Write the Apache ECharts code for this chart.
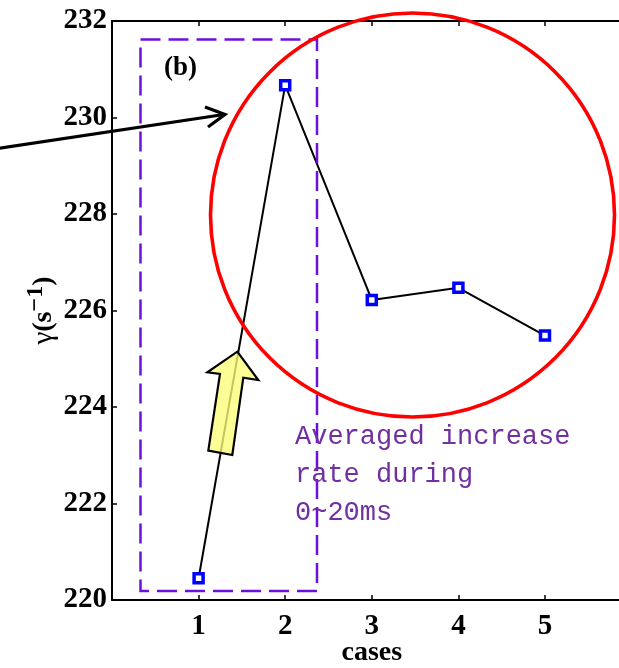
<!DOCTYPE html>
<html>
<head>
<meta charset="utf-8">
<script src="https://cdn.jsdelivr.net/npm/echarts@6/dist/echarts.min.js"></script>
<style>
html,body{margin:0;padding:0;background:#fff;}
#chart{width:619px;height:668px;}
</style>
</head>
<body>
<div id="chart"></div>
<script>
// ---- data ----
var cases = [1, 2, 3, 4, 5];
var gammaValues = [220.45, 230.67, 226.22, 226.47, 225.48];
var yTicks = [220, 222, 224, 226, 228, 230, 232];
var xTicks = [1, 2, 3, 4, 5];
var panelLabel = '(b)';
var noteLines = ['Averaged increase', 'rate during', '0~20ms'];

var points = cases.map(function (c, i) { return [c, gammaValues[i]]; });

var chart = echarts.init(document.getElementById('chart'), null, {renderer: 'canvas'});

var axisFont = {fontFamily: 'Liberation Serif', fontWeight: 'bold', fontSize: 29, color: '#000'};

function xFmt(v) { return xTicks.indexOf(v) >= 0 ? String(v) : ''; }
function yFmt(v) { return yTicks.indexOf(v) >= 0 ? String(v) : ''; }

var option = {
  animation: false,
  backgroundColor: '#fff',
  grid: {left: 112, top: 21, width: 519.6, height: 579, containLabel: false, outerBoundsMode: 'none'},
  xAxis: [{
    type: 'value', min: 0, max: 6, interval: 1, position: 'bottom',
    name: 'cases', nameLocation: 'middle', nameGap: 39, nameMoveOverlap: false,
    nameTextStyle: {fontFamily: 'Liberation Serif', fontWeight: 'bold', fontSize: 28, color: '#000'},
    axisLine: {onZero: false, lineStyle: {color: '#000', width: 2}},
    axisTick: {inside: true, length: 5, lineStyle: {color: '#000', width: 1.5}},
    axisLabel: Object.assign({margin: 12, formatter: xFmt, showMinLabel: false, showMaxLabel: false}, axisFont),
    splitLine: {show: false}
  }, {
    type: 'value', min: 0, max: 6, interval: 1, position: 'top',
    axisLine: {onZero: false, lineStyle: {color: '#000', width: 2}},
    axisTick: {inside: true, length: 5, lineStyle: {color: '#000', width: 1.5}},
    axisLabel: {show: false},
    splitLine: {show: false}
  }],
  yAxis: [{
    type: 'value', min: 220, max: 232, interval: 2,
    name: '{g|γ}{b|(s}{sup|−1}{b|)}', nameLocation: 'middle', nameGap: 48, nameRotate: 90, nameMoveOverlap: false,
    nameTextStyle: {
      rich: {
        g: {fontFamily: 'Liberation Serif', fontSize: 29, color: '#000'},
        b: {fontFamily: 'Liberation Serif', fontWeight: 'bold', fontSize: 28, color: '#000'},
        sup: {fontFamily: 'Liberation Serif', fontWeight: 'bold', fontSize: 24, color: '#000', padding: [0, 0, 16, 0]}
      }
    },
    axisLine: {lineStyle: {color: '#000', width: 2}},
    axisTick: {inside: true, length: 5, lineStyle: {color: '#000', width: 1.5}},
    axisLabel: Object.assign({margin: 5, formatter: yFmt}, axisFont),
    splitLine: {show: false}
  }],
  series: [{
    type: 'line',
    data: points,
    symbol: 'rect',
    symbolSize: 9,
    lineStyle: {color: '#000', width: 2},
    itemStyle: {color: '#fff', borderColor: '#0000ff', borderWidth: 3.5},
    z: 3
  }],
  graphic: [
    {type: 'rect', z: 50, shape: {x: 140.5, y: 39.5, width: 176.5, height: 551.5},
     style: {fill: 'none', stroke: '#6c10dc', lineWidth: 2.5, lineDash: [20, 8]}},
    {type: 'circle', z: 60, shape: {cx: 412.5, cy: 215, r: 202},
     style: {fill: 'none', stroke: '#ff0000', lineWidth: 3.6}},
    {type: 'line', z: 70, shape: {x1: -2, y1: 148.5, x2: 224, y2: 114.5},
     style: {stroke: '#000', lineWidth: 3.2}},
    {type: 'polyline', z: 70, shape: {points: [[205, 107], [225, 114.5], [208, 127]]},
     style: {stroke: '#000', lineWidth: 3.2, fill: 'none', lineJoin: 'miter'}},
    {type: 'polygon', z: 70, shape: {points: [[237.3, 351.7], [258.3, 380], [243.3, 377.7], [232.3, 455], [208.3, 450.7], [220, 374], [207.3, 372.3]]},
     style: {fill: 'rgba(252,252,120,0.78)', stroke: '#000', lineWidth: 2.2, lineJoin: 'miter'}},
    {type: 'text', z: 80, left: 164, top: 55,
     style: {text: panelLabel, font: 'bold 27px "Liberation Serif"', fill: '#000'}},
    {type: 'text', z: 80, left: 295, top: 418,
     style: {text: noteLines.join('\n'), font: '27px "Liberation Mono"', fill: '#7030a0', lineHeight: 38}}
  ]
};
chart.setOption(option);
</script>
</body>
</html>
